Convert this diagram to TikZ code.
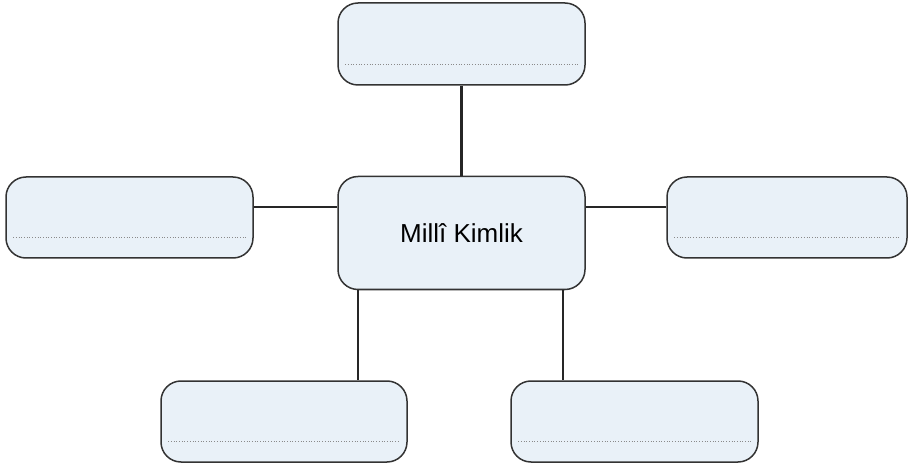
\documentclass[tikz,border=0pt]{standalone}
\usepackage{fontspec}
\setmainfont{Liberation Sans}
\definecolor{boxfill}{HTML}{E9F1F8}
\definecolor{boxline}{HTML}{333333}
\definecolor{dotcol}{HTML}{8A8A8A}
\begin{document}
\begin{tikzpicture}[x=1pt,y=1pt,
  box/.style={draw=boxline,line width=1.5pt,fill=boxfill,rounded corners=20pt,
    minimum width=#1,inner sep=0pt},
  box/.default=247pt,
  conn/.style={draw=black!85,line width=2.4pt},
  dotline/.style={draw=dotcol,line width=0.9pt,dash pattern=on 0.9pt off 1.8pt}]
\useasboundingbox (0,0) rectangle (908,-465);
\node[box,minimum height=82pt] (T) at (461.5,-44) {};
\node[box,minimum height=81pt] (L) at (129.5,-217.5) {};
\node[box=240pt,minimum height=81pt] (R) at (787,-217.5) {};
\node[box,minimum height=113pt,font=\fontsize{26}{30}\selectfont] (C) at (461.5,-233) {Millî Kimlik};
\node[box=246pt,minimum height=81pt] (BL) at (284,-421.5) {};
\node[box,minimum height=81pt] (BR) at (634.5,-421.5) {};
% connectors
\draw[conn] (T.south) -- (C.north);
\path ([yshift=10.5pt]L.east) coordinate (lc);
\draw[conn] (lc) -- (lc -| C.west);
\path ([yshift=10.5pt]R.west) coordinate (rc);
\draw[conn] (rc) -- (rc -| C.east);
\path ([xshift=-103.5pt]C.south) coordinate (blc);
\draw[conn] (blc) -- (blc |- BL.north);
\path ([xshift=101.5pt]C.south) coordinate (brc);
\draw[conn] (brc) -- (brc |- BR.north);
% dotted writing lines
\foreach \n in {T,L,R,BL,BR}{
  \draw[dotline] ([xshift=8pt,yshift=21pt]\n.south west) -- ([xshift=-8pt,yshift=21pt]\n.south east);
}
\end{tikzpicture}
\end{document}
